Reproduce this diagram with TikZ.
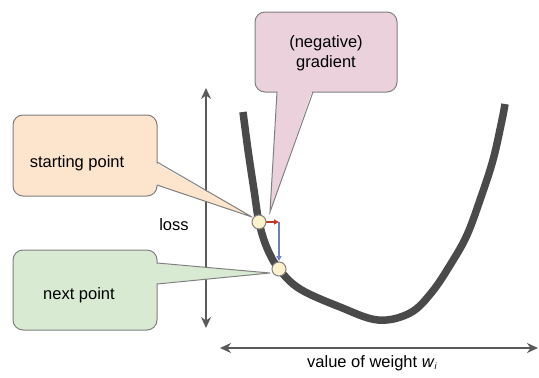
\documentclass[tikz,border=0pt]{standalone}
\usepackage{fontspec}
\setmainfont{Liberation Sans}
\usetikzlibrary{arrows.meta}
\definecolor{axisgray}{HTML}{5A5A5A}
\definecolor{curvegray}{HTML}{4A4A4A}
\definecolor{peachfill}{HTML}{FCE4CD}
\definecolor{mintfill}{HTML}{D9EAD3}
\definecolor{pinkfill}{HTML}{EAD1DC}
\definecolor{dotfill}{HTML}{FDF2CC}
\definecolor{edgegray}{HTML}{808080}
\definecolor{stepred}{HTML}{C0392B}
\definecolor{stepblue}{HTML}{6C7FC4}
\begin{document}
\begin{tikzpicture}[x=1pt,y=-1pt,
  lbl/.style={font=\fontsize{16.5}{20}\selectfont, inner sep=0pt, align=center},
  boxshape/.style={draw=edgegray, line width=1pt, rounded corners=10pt},
  tipedge/.style={draw=edgegray, line width=1pt},
  axis/.style={draw=axisgray, line width=2.5pt, {Stealth[length=11pt,width=10pt]}-{Stealth[length=11pt,width=10pt]}},
  dot/.style={circle, draw=edgegray, fill=dotfill, line width=1pt, minimum size=14pt, inner sep=0pt},
  stepline/.style={line width=1.3pt, -{Triangle[length=5pt,width=5pt]}}]
\useasboundingbox (0,0) rectangle (539,378);

% axes
\coordinate (vtop) at (206,88);
\coordinate (vbot) at (206,328);
\coordinate (hl) at (220,348);
\coordinate (hr) at (538,348);
\draw[axis] (vtop) -- (vbot);
\draw[axis] (hl) -- (hr);
\node[lbl] (loss) at (174,225) {loss};
\node[lbl] (xlab) at (372,363) {value of weight \textit{w}\raisebox{-0.3ex}{\fontsize{9}{10}\selectfont\textit{i}}};

% curve
\draw[curvegray, line width=7.5pt] plot[smooth, tension=0.6] coordinates {
 (243,112) (248,150) (254,190) (259,222) (267,248) (279,269) (300,289)
 (340,307) (378,320) (410,313) (432,292) (452,262) (467,235) (480,200)
 (493,160) (502,120) (505,104)};

% starting point callout
\draw[boxshape, fill=peachfill] (13,115) rectangle (157,196);
\coordinate (sptip) at (252,217);
\fill[peachfill] (155,162.5) -- (sptip) -- (155,184.5) -- cycle;
\draw[tipedge] (157,162) -- (sptip) -- (157,185);
\node[lbl] (sptext) at (77,163) {starting point};

% next point callout
\draw[boxshape, fill=mintfill] (13,250) rectangle (157,330);
\coordinate (nptip) at (270,273);
\fill[mintfill] (155,263.5) -- (nptip) -- (155,283.5) -- cycle;
\draw[tipedge] (157,263) -- (nptip) -- (157,284);
\node[lbl] (nptext) at (79,295) {next point};

% gradient callout
\draw[boxshape, fill=pinkfill] (255,12) rectangle (397,92);
\coordinate (grtip) at (270,212);
\fill[pinkfill] (277.5,90) -- (grtip) -- (312.5,90) -- cycle;
\draw[tipedge] (277,92) -- (grtip) -- (313,92);
\node[lbl] (grtext) at (326,53) {(negative)\\gradient};

% step arrows
\coordinate (corner) at (279,222);
\draw[stepline, stepred] (265,222) -- (corner);
\draw[stepline, stepblue] (corner) -- (279,261);

% points
\node[dot] (sp) at (259,222) {};
\node[dot] (np) at (279,269) {};
\end{tikzpicture}
\end{document}
